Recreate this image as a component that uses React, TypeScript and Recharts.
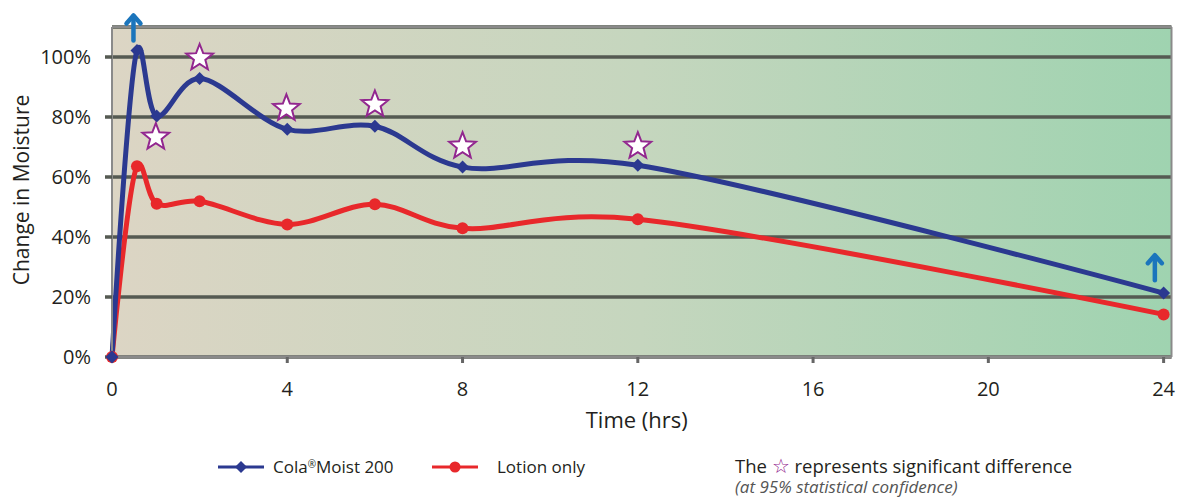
import React from 'react';
import {
  ComposedChart,
  Line,
  Scatter,
  XAxis,
  YAxis,
  CartesianGrid,
  ReferenceLine,
} from 'recharts';

// ---- Data ----
const times = [0, 0.57, 1.02, 2, 4, 6, 8, 12, 24];
const colaMoist200 = [0, 102.2, 80.3, 92.8, 75.9, 76.9, 63.3, 63.9, 21.3];
const lotionOnly = [0, 63.6, 51.1, 51.9, 44.2, 50.9, 42.9, 45.9, 14.2];

const starTimes = [1.0, 2, 3.98, 6, 8, 12];
const starValues = [73.6, 100, 83.2, 84.5, 70.6, 70.6];

const arrowTimes = [0.49, 23.8];
const arrowValues = [105.5, 25.6];

const xTicks = [0, 4, 8, 12, 16, 20, 24];
const yTicks = [0, 20, 40, 60, 80, 100];

const colaData = times.map((t, i) => ({ t, v: colaMoist200[i] }));
const lotionData = times.map((t, i) => ({ t, v: lotionOnly[i] }));
const starData = starTimes.map((t, i) => ({ t, v: starValues[i] }));
const arrowData = arrowTimes.map((t, i) => ({ t, v: arrowValues[i] }));

const NAVY = '#2b3990';
const RED = '#e8282b';
const PURPLE = '#92278f';
const BLUE = '#1b75bc';
const FONT = '"Open Sans", sans-serif';
const TEXT = '#231f20';

// Catmull-Rom style curve (similar to spreadsheet "smoothed line")
function makeCurve(alpha: number) {
  return (context: any) => {
    let pts: [number, number][] = [];
    const dist = (a: [number, number], b: [number, number]) =>
      Math.hypot(a[0] - b[0], a[1] - b[1]);
    return {
      areaStart() {},
      areaEnd() {},
      lineStart() {
        pts = [];
      },
      lineEnd() {
        if (!pts.length) return;
        context.moveTo(pts[0][0], pts[0][1]);
        for (let i = 0; i < pts.length - 1; i++) {
          const p1 = pts[i];
          const p2 = pts[i + 1];
          const p0 = i > 0 ? pts[i - 1] : null;
          const p3 = i + 2 < pts.length ? pts[i + 2] : null;
          const d12 = dist(p1, p2);
          const l12a = Math.pow(d12, alpha);
          const l12_2a = Math.pow(d12, 2 * alpha);
          let c1: [number, number] = [p1[0], p1[1]];
          let c2: [number, number] = [p2[0], p2[1]];
          if (p0) {
            const d01 = dist(p0, p1);
            const l01a = Math.pow(d01, alpha);
            const l01_2a = Math.pow(d01, 2 * alpha);
            if (l01a > 1e-6) {
              const a = 2 * l01_2a + 3 * l01a * l12a + l12_2a;
              const n = 3 * l01a * (l01a + l12a);
              c1 = [
                (p1[0] * a - p0[0] * l12_2a + p2[0] * l01_2a) / n,
                (p1[1] * a - p0[1] * l12_2a + p2[1] * l01_2a) / n,
              ];
            }
          }
          if (p3) {
            const d23 = dist(p2, p3);
            const l23a = Math.pow(d23, alpha);
            const l23_2a = Math.pow(d23, 2 * alpha);
            if (l23a > 1e-6) {
              const b = 2 * l23_2a + 3 * l23a * l12a + l12_2a;
              const m = 3 * l23a * (l23a + l12a);
              c2 = [
                (p2[0] * b + p1[0] * l23_2a - p3[0] * l12_2a) / m,
                (p2[1] * b + p1[1] * l23_2a - p3[1] * l12_2a) / m,
              ];
            }
          }
          context.bezierCurveTo(c1[0], c1[1], c2[0], c2[1], p2[0], p2[1]);
        }
      },
      point(x: number, y: number) {
        pts.push([+x, +y]);
      },
    };
  };
}

const smooth = makeCurve(0.2);

const DiamondDot = (props: any) => {
  const { cx, cy, index } = props;
  if (cx == null || cy == null) return <g key={`d${index}`} />;
  const r = 6.5;
  return (
    <path
      key={`d${index}`}
      d={`M${cx},${cy - r}L${cx + r},${cy}L${cx},${cy + r}L${cx - r},${cy}Z`}
      fill={NAVY}
    />
  );
};

const CircleDot = (props: any) => {
  const { cx, cy, index } = props;
  if (cx == null || cy == null) return <g key={`c${index}`} />;
  return <circle key={`c${index}`} cx={cx} cy={cy} r={6} fill={RED} />;
};

const starPath = (cx: number, cy: number, ro: number, ri: number) => {
  let d = '';
  for (let k = 0; k < 10; k++) {
    const r = k % 2 === 0 ? ro : ri;
    const a = -Math.PI / 2 + (k * Math.PI) / 5;
    d += `${k === 0 ? 'M' : 'L'}${cx + r * Math.cos(a)},${cy + r * Math.sin(a)}`;
  }
  return d + 'Z';
};

const StarShape = (props: any) => {
  const { cx, cy } = props;
  if (cx == null || cy == null) return <g />;
  return (
    <path
      d={starPath(cx, cy + 1, 14, 6)}
      fill="#ffffff"
      stroke={PURPLE}
      strokeWidth={2}
      strokeLinejoin="miter"
    />
  );
};

const ArrowShape = (props: any) => {
  const { cx, cy } = props;
  if (cx == null || cy == null) return <g />;
  return (
    <g stroke={BLUE} strokeWidth={4.5} fill="none" strokeLinecap="round" strokeLinejoin="round">
      <line x1={cx} y1={cy} x2={cx} y2={cy - 24} />
      <polyline points={`${cx - 7},${cy - 17} ${cx},${cy - 25} ${cx + 7},${cy - 17}`} />
    </g>
  );
};

const legendText: React.CSSProperties = {
  position: 'absolute',
  fontFamily: FONT,
  fontSize: 17,
  lineHeight: '18px',
  color: TEXT,
  whiteSpace: 'nowrap',
};

export default function App() {
  return (
    <div style={{ position: 'absolute', left: 0, top: 0, width: 1185, height: 502, background: '#fff' }}>
      <ComposedChart
        width={1185}
        height={502}
        margin={{ top: 27, right: 13.5, bottom: 75, left: 0 }}
      >
        <defs>
          <linearGradient id="bgGrad" x1="0" y1="0" x2="1" y2="0">
            <stop offset="0%" stopColor="#dcd5c4" />
            <stop offset="50%" stopColor="#c5d6be" />
            <stop offset="100%" stopColor="#9fd3b0" />
          </linearGradient>
        </defs>
        <CartesianGrid
          vertical={false}
          horizontal
          fill="url(#bgGrad)"
          fillOpacity={1}
          stroke="#555a52"
          strokeWidth={3.5}
        />
        <XAxis
          dataKey="t"
          type="number"
          domain={[0, 24.18]}
          ticks={xTicks}
          height={70}
          axisLine={{ stroke: '#8a8a8a', strokeWidth: 3 }}
          tickLine={{ stroke: '#666666', strokeWidth: 3 }}
          tickSize={6}
          tickMargin={19}
          tick={{ fill: TEXT, fontSize: 20, fontFamily: FONT }}
          interval={0}
          label={{
            value: 'Time (hrs)',
            position: 'insideTop',
            offset: 55,
            dx: -5,
            style: { fill: TEXT, fontSize: 22, fontFamily: FONT },
          }}
        />
        <YAxis
          dataKey="v"
          type="number"
          domain={[0, 110]}
          ticks={yTicks}
          width={112}
          tickFormatter={(v: number) => `${v}%`}
          axisLine={{ stroke: '#8a8a8a', strokeWidth: 2 }}
          tickLine={{ stroke: '#555a52', strokeWidth: 3.5 }}
          tickSize={7}
          tickMargin={14}
          tick={{ fill: TEXT, fontSize: 20, fontFamily: FONT }}
          interval={0}
          label={{
            value: 'Change in Moisture',
            angle: -90,
            position: 'insideLeft',
            offset: 22,
            dy: -2,
            style: { textAnchor: 'middle', fill: TEXT, fontSize: 21, fontFamily: FONT },
          }}
        />
        <ReferenceLine y={110} stroke="#8a8a8a" strokeWidth={2} />
        <ReferenceLine x={24.18} stroke="#8a8a8a" strokeWidth={2} />
        <Line
          data={lotionData}
          dataKey="v"
          name="Lotion only"
          type={smooth as any}
          stroke={RED}
          strokeWidth={5}
          dot={CircleDot}
          activeDot={false}
          isAnimationActive={false}
        />
        <Line
          data={colaData}
          dataKey="v"
          name="Cola®Moist 200"
          type={smooth as any}
          stroke={NAVY}
          strokeWidth={5}
          dot={DiamondDot}
          activeDot={false}
          isAnimationActive={false}
        />
        <Scatter data={starData} dataKey="v" shape={StarShape} isAnimationActive={false} />
        <Scatter data={arrowData} dataKey="v" shape={ArrowShape} isAnimationActive={false} />
      </ComposedChart>

      {/* Legend */}
      <svg style={{ position: 'absolute', left: 218, top: 459 }} width={46} height={16}>
        <line x1={0} y1={8} x2={46} y2={8} stroke={NAVY} strokeWidth={3} />
        <path d="M23,2L29,8L23,14L17,8Z" fill={NAVY} />
      </svg>
      <div style={{ ...legendText, left: 273, top: 458 }}>
        Cola<sup style={{ fontSize: 10, verticalAlign: 'top', lineHeight: '12px' }}>®</sup>Moist 200
      </div>
      <svg style={{ position: 'absolute', left: 432, top: 459 }} width={46} height={16}>
        <line x1={0} y1={8} x2={46} y2={8} stroke={RED} strokeWidth={3} />
        <circle cx={23} cy={8} r={5.5} fill={RED} />
      </svg>
      <div style={{ ...legendText, left: 497, top: 458 }}>Lotion only</div>
      <div style={{ ...legendText, left: 735, top: 456, fontSize: 18.5, lineHeight: '20px' }}>
        The <span style={{ color: PURPLE, fontSize: 20, lineHeight: '20px' }}>☆</span> represents significant difference
      </div>
      <div
        style={{
          ...legendText,
          left: 735,
          top: 479,
          lineHeight: '16px',
          fontStyle: 'italic',
          color: '#555555',
          fontSize: 17,
        }}
      >
        (at 95% statistical confidence)
      </div>
    </div>
  );
}
